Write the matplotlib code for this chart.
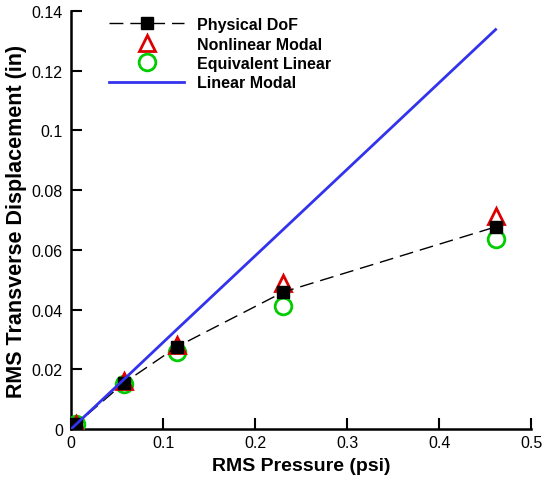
import numpy as np
import matplotlib
matplotlib.use("Agg")
import matplotlib.pyplot as plt
import matplotlib.ticker as mtick

plt.rcParams["font.family"] = ["Liberation Sans", "DejaVu Sans"]

# ── Data ─────────────────────────────────────────────────────────────────────
pressure = [0.00058, 0.0058, 0.0577, 0.1154, 0.2308, 0.4615]
physical_dof = [0.00017, 0.0017, 0.0155, 0.0276, 0.0459, 0.0677]
nonlinear_modal = [0.00017, 0.0017, 0.0160, 0.0281, 0.0490, 0.0712]
equivalent_linear = [0.00017, 0.0017, 0.0150, 0.0258, 0.0413, 0.0636]
linear_modal = [0.00017, 0.0017, 0.0167, 0.0335, 0.0669, 0.1338]

x_ticks = [0, 0.1, 0.2, 0.3, 0.4, 0.5]
y_ticks = [0, 0.02, 0.04, 0.06, 0.08, 0.1, 0.12, 0.14]

fig = plt.figure(figsize=(5.43, 4.81), dpi=100)
ax = fig.add_axes([0.131, 0.106, 0.847, 0.869])

ax.plot(pressure, equivalent_linear, "o", ms=12, mfc="none", mec="#00cc00",
        mew=2, ls="none", label="Equivalent Linear", zorder=3)
ax.plot(pressure, nonlinear_modal, "^", ms=11, mfc="none", mec="#dd0000",
        mew=2, ls="none", label="Nonlinear Modal", zorder=4)
ax.plot(pressure, physical_dof, "s", ms=8, color="black", ls=(0, (10, 5)),
        lw=1, label="Physical DoF", zorder=5)
ax.plot(pressure, linear_modal, "-", color="#3333ee", lw=2,
        label="Linear Modal", zorder=6)

ax.set_xlim(0, 0.5)
ax.set_ylim(0, 0.14)
ax.set_xticks(x_ticks)
ax.set_yticks(y_ticks)
ax.xaxis.set_major_formatter(mtick.FormatStrFormatter("%g"))
ax.yaxis.set_major_formatter(mtick.FormatStrFormatter("%g"))
ax.tick_params(direction="in", length=8, width=1.5, labelsize=11.5)
ax.tick_params(axis="y", pad=6)
ax.tick_params(axis="x", pad=4)
for side in ("top", "right"):
    ax.spines[side].set_visible(False)
for side in ("left", "bottom"):
    ax.spines[side].set_linewidth(1.8)

ax.set_xlabel("RMS Pressure (psi)", fontsize=14, fontweight="bold", labelpad=5)
ax.set_ylabel("RMS Transverse Displacement (in)", fontsize=15.5,
              fontweight="bold", labelpad=3)

handles, labels = ax.get_legend_handles_labels()
order = [2, 1, 0, 3]
leg = ax.legend([handles[i] for i in order], [labels[i] for i in order],
                loc="upper left", bbox_to_anchor=(0.052, 1.02), frameon=False,
                prop={"weight": "bold", "size": 11.5}, handlelength=4.7,
                handletextpad=0.8, labelspacing=0.28)

fig.savefig("out.png", dpi=100)
